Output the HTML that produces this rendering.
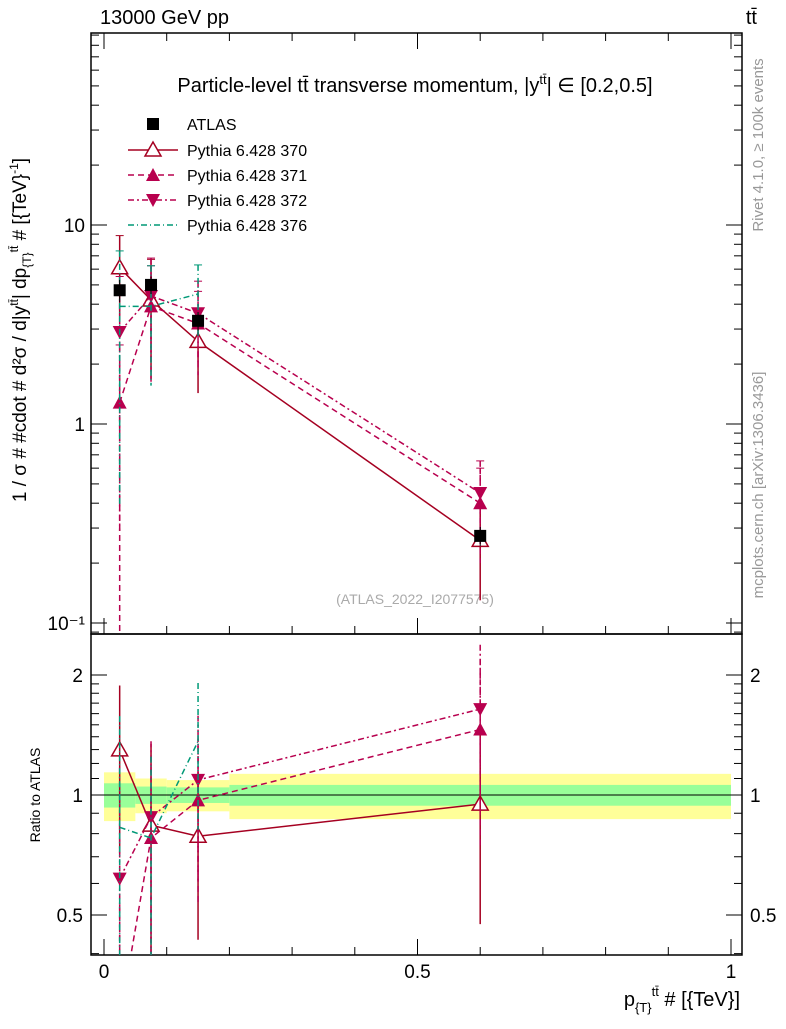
<!DOCTYPE html>
<html><head><meta charset="utf-8"><style>
body{margin:0;background:#fff;font-family:"Liberation Sans",sans-serif}
svg text{font-family:"Liberation Sans","DejaVu Sans",sans-serif}
</style></head><body>
<svg id="c" width="786" height="1024" xmlns="http://www.w3.org/2000/svg">
<text x="100" y="24" font-size="20">13000 GeV pp</text>
<text x="757" y="24" font-size="20" text-anchor="end">tt̄</text>
<text x="415" y="92" font-size="20" text-anchor="middle">Particle-level tt̄ transverse momentum, |y<tspan font-size="13" dy="-8">tt̄</tspan><tspan dy="8">| ∈ [0.2,0.5]</tspan></text>
<text transform="translate(763,145) rotate(-90)" font-size="15" fill="#999" text-anchor="middle">Rivet 4.1.0, ≥ 100k events</text>
<text transform="translate(763,485) rotate(-90)" font-size="15" fill="#999" text-anchor="middle">mcplots.cern.ch [arXiv:1306.3436]</text>
<text x="415" y="604" font-size="14" fill="#aaa" text-anchor="middle">(ATLAS_2022_I2077575)</text>
<text transform="translate(26,330) rotate(-90)" font-size="19" text-anchor="middle">1 / σ # #cdot # d²σ / d|y<tspan font-size="12" dy="-8">tt̄</tspan><tspan dy="8">| dp</tspan><tspan font-size="12" dy="5">{T}</tspan><tspan font-size="12" dy="-13">tt̄</tspan><tspan dy="8"> # [{TeV}</tspan><tspan font-size="12" dy="-8">-1</tspan><tspan dy="8">]</tspan></text>
<text transform="translate(40,795) rotate(-90)" font-size="14" text-anchor="middle">Ratio to ATLAS</text>
<text x="740" y="1006" font-size="20" text-anchor="end">p<tspan font-size="13" dy="6">{T}</tspan><tspan font-size="13" dy="-16">tt̄</tspan><tspan dy="10"> # [{TeV}]</tspan></text>
<g id="g"></g>
</svg>
<script>
const xCenters=[0.025,0.075,0.15,0.6];
const xEdges=[0,0.05,0.1,0.2,1.0];
const atlas=[4.7,5.0,3.3,0.274];
const atlasErr=[0.6,0.5,0.35,0.03];
const bandTot=[0.14,0.10,0.09,0.13];
const bandStat=[0.07,0.05,0.045,0.06];
const p370=[6.1,4.2,2.6,0.26];
const p371=[1.28,3.9,3.2,0.40];
const p372=[2.9,4.4,3.6,0.45];
const p376=[3.9,3.9,4.5];
const relErr370=[0.45,0.6,0.45,0.5];
const relErr371=[0.95,0.6,0.45,0.5];
const relErr372=[0.9,0.55,0.45,0.45];
const relErr376=[0.9,0.6,0.4];
const mainTicks=["10⁻¹","1","10"];
const ratioTicks=[0.5,1,2];
const xTicks=["0","0.5","1"];

const NS="http://www.w3.org/2000/svg",G=document.getElementById('g');
const L=91,R=742,T1=33,B1=634,T2=634,B2=955;
const X=v=>104+v*627;
const Y=v=>424-199*Math.log10(v);
const YR=v=>795-120*Math.log2(v);
function el(t,a,p){const e=document.createElementNS(NS,t);for(const k in a)e.setAttribute(k,a[k]);(p||G).appendChild(e);return e;}
function clipY(y,t,b){return Math.max(t,Math.min(b,y));}
for(let i=0;i<4;i++){
 const r=el('rect',{x:X(xEdges[i]),y:YR(1+bandTot[i]),width:X(xEdges[i+1])-X(xEdges[i]),height:YR(1-bandTot[i])-YR(1+bandTot[i]),fill:'#ffff99'});
 
 const s=el('rect',{x:X(xEdges[i]),y:YR(1+bandStat[i]),width:X(xEdges[i+1])-X(xEdges[i]),height:YR(1-bandStat[i])-YR(1+bandStat[i]),fill:'#99ff99'});
 
}
el('line',{x1:L,x2:R,y1:YR(1),y2:YR(1),stroke:'#000'});
for(const [t,b] of [[T1,B1],[T2,B2]]){const f=el('rect',{x:L,y:t,width:R-L,height:b-t,fill:'none',stroke:'#000','stroke-width':1.5});}
for(let d=-2;d<=2;d++)for(let m=1;m<=9;m++){const v=m*Math.pow(10,d),y=Y(v);if(y<T1||y>B1)continue;const len=m==1?16:8;
 el('line',{x1:L,x2:L+len,y1:y,y2:y,stroke:'#000'});el('line',{x1:R,x2:R-len,y1:y,y2:y,stroke:'#000'});}
mainTicks.forEach((t,i)=>{const e=el('text',{x:L-6,y:Y(Math.pow(10,i-1))+7,'font-size':19,'text-anchor':'end'});e.textContent=t;});
for(let v=0.4;v<=2.5;v+=(v<2?0.1:0.5)){const y=YR(v);if(y<T2||y>B2)continue;const maj=[0.5,1,2].some(q=>Math.abs(q-v)<1e-6);const len=maj?16:8;
 el('line',{x1:L,x2:L+len,y1:y,y2:y,stroke:'#000'});el('line',{x1:R,x2:R-len,y1:y,y2:y,stroke:'#000'});}
ratioTicks.forEach(v=>{for(const [x,a] of [[L-8,'end'],[R+8,'start']]){const e=el('text',{x:x,y:YR(v)+7,'font-size':19,'text-anchor':a});e.textContent=v;}});
for(let k=0;k<=10;k++){const x=X(k/10),len=k%5==0?16:8;el('line',{x1:x,x2:x,y1:B2,y2:B2-len,stroke:'#000'});el('line',{x1:x,x2:x,y1:B1,y2:B1-len,stroke:'#000'});el('line',{x1:x,x2:x,y1:T1,y2:T1+len,stroke:'#000'});}
xTicks.forEach((t,i)=>{const e=el('text',{x:X(i*0.5),y:978,'font-size':19,'text-anchor':'middle'});e.textContent=t;});
function marker(type,x,y,col,p){
 if(type=='sq')return el('rect',{x:x-6,y:y-6,width:12,height:12,fill:'#000'},p);
 if(type=='open')return el('polygon',{points:`${x},${y-8} ${x-8},${y+6} ${x+8},${y+6}`,fill:'#fff',stroke:col,'stroke-width':1.5},p);
 if(type=='up')return el('polygon',{points:`${x},${y-7} ${x-7},${y+6} ${x+7},${y+6}`,fill:col},p);
 if(type=='down')return el('polygon',{points:`${x},${y+7} ${x-7},${y-6} ${x+7},${y-6}`,fill:col},p);
 return null;
}
const series=[
 {n:'pythia-370',d:p370,e:relErr370,c:'#a50021',dash:'',m:'open',lab:'Pythia 6.428 370'},
 {n:'pythia-371',d:p371,e:relErr371,c:'#b8004e',dash:'6,4',m:'up',lab:'Pythia 6.428 371'},
 {n:'pythia-372',d:p372,e:relErr372,c:'#b8004e',dash:'6,3,2,3',m:'down',lab:'Pythia 6.428 372'},
 {n:'pythia-376',d:p376,e:relErr376,c:'#009977',dash:'6,3,1,3',m:'none',lab:'Pythia 6.428 376'}];
series.forEach(s=>{
 const g=el('g',{});
 let pts=s.d.map((v,i)=>X(xCenters[i])+','+Y(v)).join(' ');
 el('polyline',{points:pts,fill:'none',stroke:s.c,'stroke-width':1.5,'stroke-dasharray':s.dash},g);
 let rp=s.d.map((v,i)=>X(xCenters[i])+','+YR(v/atlas[i])).join(' ');
 const cp=el('clipPath',{id:'cl'+s.n});el('rect',{x:L,y:T2,width:R-L,height:B2-T2},cp);
 const gr=el('g',{'clip-path':'url(#cl'+s.n+')'},g);
 el('polyline',{points:rp,fill:'none',stroke:s.c,'stroke-width':1.5,'stroke-dasharray':s.dash},gr);
 s.d.forEach((v,i)=>{const x=X(xCenters[i]);
  const y1=clipY(Y(v*(1+s.e[i])),T1,B1),y2=clipY(Y(Math.max(v*(1-s.e[i]),1e-3)),T1,B1);
  el('line',{x1:x,x2:x,y1:y1,y2:y2,stroke:s.c,'stroke-width':1.5,'stroke-dasharray':s.dash},g);
  el('line',{x1:x-4,x2:x+4,y1:y1,y2:y1,stroke:s.c},g);
  const r=v/atlas[i];
  const r1=clipY(YR(r*(1+s.e[i])),T2,B2),r2=clipY(YR(Math.max(r*(1-s.e[i]),0.01)),T2,B2);
  el('line',{x1:x,x2:x,y1:r1,y2:r2,stroke:s.c,'stroke-width':1.5,'stroke-dasharray':s.dash},g);
  const m=marker(s.m,x,Y(v),s.c,g);if(m){}
  const yr=YR(r);if(yr>T2&&yr<B2){const m2=marker(s.m,x,yr,s.c,gr);if(m2){}}
 });
});
atlas.forEach((v,i)=>{const x=X(xCenters[i]);
 el('line',{x1:x,x2:x,y1:Y(v+atlasErr[i]),y2:Y(v-atlasErr[i]),stroke:'#000'});
 const m=marker('sq',x,Y(v));});
const lg=el('g',{});
const e0=el('g',{},lg);
marker('sq',153,124,'#000',e0);const t0=el('text',{x:187,y:130,'font-size':16},e0);t0.textContent='ATLAS';
series.forEach((s,i)=>{const y=150+i*25;const e=el('g',{},lg);
 el('line',{x1:128,x2:178,y1:y,y2:y,stroke:s.c,'stroke-width':1.5,'stroke-dasharray':s.dash},e);marker(s.m,153,y,s.c,e);
 const t=el('text',{x:187,y:y+6,'font-size':16},e);t.textContent=s.lab;});
</script>
</body></html>
